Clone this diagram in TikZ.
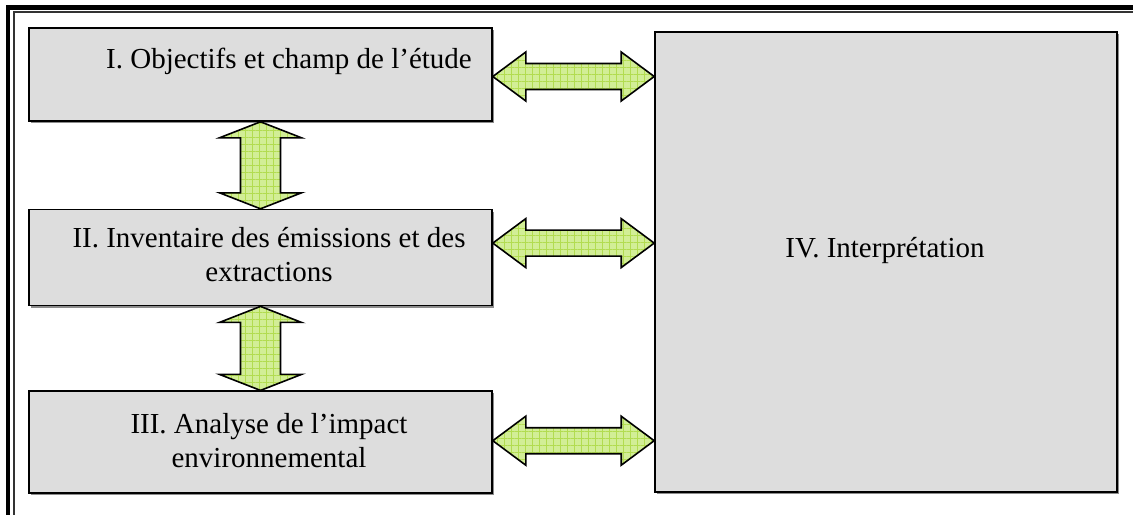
\documentclass[tikz,border=0pt]{standalone}
\usepackage{fontspec}
\setmainfont{Liberation Serif}
\usetikzlibrary{positioning,calc,shadows,patterns.meta}
\definecolor{boxgray}{RGB}{221,221,221}
\definecolor{leafgreen}{RGB}{210,238,150}
\definecolor{gridgreen}{RGB}{178,220,80}

\begin{document}
\begin{tikzpicture}[
  x=1pt, y=-1pt,
  stage/.style={draw=black, line width=1.6pt, fill=boxgray, inner sep=0pt,
    minimum width=463pt, drop shadow={shadow xshift=2pt, shadow yshift=-2pt, fill=black!45, opacity=1}},
  txt/.style={font=\fontsize{29}{34}\selectfont, align=center, inner sep=0pt, anchor=base},
  dblarrow/.style={draw=black, line width=1.6pt, line join=miter,
    preaction={fill=leafgreen}, pattern={Hatch[distance=7pt, angle=0, line width=0.45pt]}, pattern color=gridgreen},
  frame/.style={line width=4.5pt, black},
  framethin/.style={line width=1.5pt, black!80}
]
\useasboundingbox (0,0) rectangle (1133,515);
% ---------- double frame ----------
\draw[frame] (1133,7.5) -- (8,7.5) -- (8,515);
\draw[framethin] (1133,12) -- (14,12) -- (14,515);
% ---------- the four stages ----------
\node[stage, minimum height=93pt] (obj) at (260.5,74.5) {};
\node[stage, minimum height=96pt, below=87pt of obj] (inv) {};
\node[stage, minimum height=102pt, below=84pt of inv] (ana) {};
\node[stage, minimum width=462pt, minimum height=460pt] (int) at (886,262) {};
\node[txt] (objtxt) at ($(obj.center)+(28.5,-6.5)$) {I. Objectifs et champ de l’étude};
\node[txt] (invtxt) at ($(inv.center)+(8.5,24)$) {II. Inventaire des émissions et des\\extractions};
\node[txt] (anatxt) at ($(ana.center)+(8.5,25)$) {III. Analyse de l’impact\\environnemental};
\node[txt] (inttxt) at ($(int.center)+(-1,-5)$) {IV. Interprétation};
% ---------- links to the interpretation ----------
\foreach \src/\dy in {obj/2, inv/-14.5, ana/-1.5} {
  \path ($(\src.east)+(0,\dy)$) coordinate (l) (l -| int.west) coordinate (r);
  \draw[dblarrow] (l) -- ++(33,-24.5) -- ++(0,11.5) -- ($(r)+(-33,-13)$) -- ++(0,-11.5)
    -- (r) -- ++(-33,24.5) -- ++(0,-11.5) -- ($(l)+(33,13)$) -- ++(0,11.5) -- cycle;
}
% ---------- links between phases ----------
\foreach \up/\down in {obj/inv, inv/ana} {
  \path (\up.south) coordinate (t) (\down.north) coordinate (b);
  \draw[dblarrow] (t) -- ++(41,16) -- ++(-21,0) -- ($(b)+(20,-16)$) -- ++(21,0)
    -- (b) -- ++(-41,-16) -- ++(21,0) -- ($(t)+(-20,16)$) -- ++(-21,0) -- cycle;
}
\end{tikzpicture}
\end{document}
